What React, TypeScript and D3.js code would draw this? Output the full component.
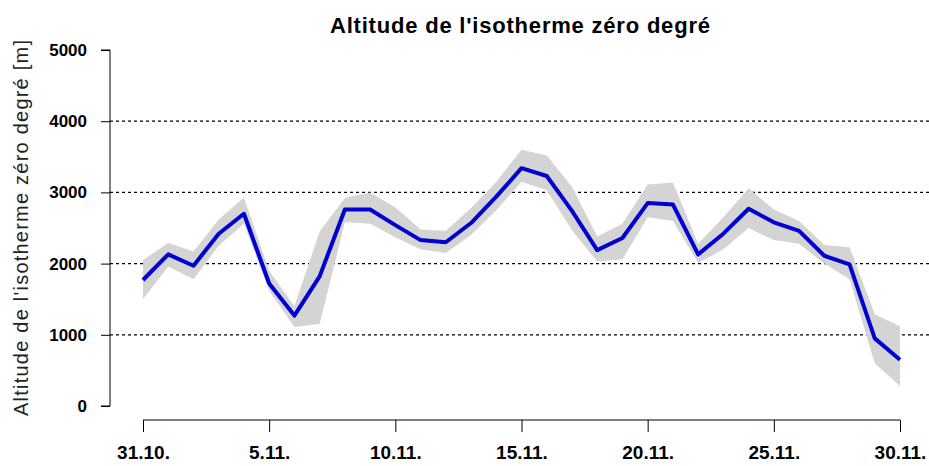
import React, { useRef, useEffect } from 'react';
import * as d3 from 'd3';

// jours: 31.10. -> 30.11.
const days = d3.range(0, 31);
const tickDays = [0, 5, 10, 15, 20, 25, 30];
const tickLabels = ['31.10.', '5.11.', '10.11.', '15.11.', '20.11.', '25.11.', '30.11.'];
const yTicks = [0, 1000, 2000, 3000, 4000, 5000];

const median = [1770, 2130, 1970, 2420, 2700, 1720, 1270, 1820, 2760, 2760, 2540, 2330, 2300, 2570, 2940, 3340,
  3230, 2740, 2190, 2360, 2850, 2830, 2130, 2420, 2770, 2580, 2460, 2110, 1990, 950, 650];
const upper = [2050, 2290, 2170, 2620, 2930, 1900, 1400, 2450, 2920, 3000, 2790, 2480, 2460, 2780, 3150, 3600,
  3520, 3080, 2380, 2560, 3110, 3140, 2280, 2650, 3060, 2760, 2600, 2260, 2230, 1290, 1120];
const lower = [1500, 1960, 1780, 2250, 2560, 1620, 1110, 1150, 2580, 2560, 2370, 2200, 2150, 2400, 2750, 3150,
  3030, 2470, 2030, 2060, 2650, 2600, 2010, 2200, 2500, 2330, 2280, 2000, 1780, 600, 280];

const FONT = 'Liberation Sans, Arial, sans-serif';

const App = () => {
  const ref = useRef<SVGSVGElement>(null);

  useEffect(() => {
    const svg = d3.select(ref.current);
    svg.selectAll('*').remove();

    const x = d3.scaleLinear().domain([0, 30]).range([143, 900]);
    const y = d3.scaleLinear().domain([0, 5000]).range([406, 50]);

    // grille pointillée
    svg.append('g')
      .selectAll('line')
      .data(yTicks.filter(v => v > 0 && v < 5000))
      .enter()
      .append('line')
      .attr('x1', 110)
      .attr('x2', 929)
      .attr('y1', d => y(d))
      .attr('y2', d => y(d))
      .attr('stroke', '#000')
      .attr('stroke-width', 1.3)
      .attr('stroke-dasharray', '3,3');

    // bande d'incertitude
    const area = d3.area<number>()
      .x(d => x(d))
      .y0(d => y(lower[d]))
      .y1(d => y(upper[d]));
    svg.append('path')
      .datum(days)
      .attr('d', area)
      .attr('fill', '#d4d4d4');

    const line = d3.line<number>()
      .x(d => x(d))
      .y(d => y(median[d]));
    svg.append('path')
      .datum(days)
      .attr('d', line)
      .attr('fill', 'none')
      .attr('stroke', '#0000d0')
      .attr('stroke-width', 4)
      .attr('stroke-linejoin', 'round');

    // axe y
    const yAxis = d3.axisLeft(y).tickValues(yTicks).tickSize(9).tickPadding(14).tickFormat(d3.format('d'));
    const gy = svg.append('g').attr('transform', 'translate(110,0)').call(yAxis);
    gy.select('.domain').attr('d', 'M-9,50H0V406H-9').attr('stroke', '#000');
    gy.selectAll('text')
      .attr('font-family', FONT)
      .attr('font-weight', 'bold')
      .attr('font-size', 17)
      .attr('fill', '#000');

    // axe x
    const xAxis = d3.axisBottom(x).tickValues(tickDays).tickSize(12).tickPadding(14)
      .tickFormat((d, i) => tickLabels[i]);
    const gx = svg.append('g').attr('transform', 'translate(0,420)').call(xAxis);
    gx.select('.domain').attr('d', 'M143,0H900').attr('stroke', '#000');
    gx.selectAll('text')
      .attr('font-family', FONT)
      .attr('font-weight', 'bold')
      .attr('font-size', 19)
      .attr('fill', '#000');

    svg.append('text')
      .attr('x', 520)
      .attr('y', 33)
      .attr('text-anchor', 'middle')
      .attr('font-family', FONT)
      .attr('font-weight', 'bold')
      .attr('font-size', 22)
      .attr('textLength', 380)
      .attr('lengthAdjust', 'spacing')
      .text("Altitude de l'isotherme zéro degré");

    svg.append('text')
      .attr('transform', 'translate(28,228) rotate(-90)')
      .attr('text-anchor', 'middle')
      .attr('font-family', FONT)
      .attr('font-size', 20)
      .attr('textLength', 376)
      .attr('lengthAdjust', 'spacing')
      .attr('fill', '#222')
      .text("Altitude de l'isotherme zéro degré [m]");
  }, []);

  return (
    <svg ref={ref} width={929} height={466}
      style={{ position: 'fixed', left: 0, top: 0, background: '#fff' }} />
  );
};

export default App;
